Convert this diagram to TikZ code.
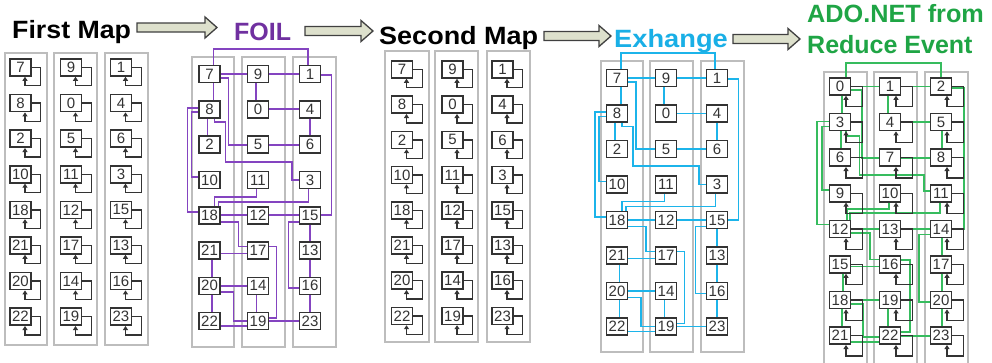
\documentclass[tikz,border=0pt]{standalone}
\usepackage{fontspec}
\setmainfont{Liberation Sans}
\usetikzlibrary{calc,arrows.meta}

\definecolor{foiltext}{HTML}{7030A0}
\definecolor{foilwire}{HTML}{8444C0}
\definecolor{extext}{HTML}{19AFE6}
\definecolor{exwire}{HTML}{1CB4EA}
\definecolor{adotext}{HTML}{1FA545}
\definecolor{adowire}{HTML}{36BC5E}
\definecolor{arrowfill}{HTML}{DDE0CC}
\definecolor{framegray}{HTML}{BDBDBD}
\definecolor{ink}{HTML}{333333}

\tikzset{
  colbox/.style={draw=framegray, line width=2pt, fill=white},
  cell/.style={draw=ink, line width=1.6pt, fill=white, minimum width=21pt,
    minimum height=17pt, inner sep=0pt, text=ink,
    font=\fontsize{15}{15}\selectfont},
  selfloop/.style={draw=ink, line width=1.3pt, -{Triangle[length=4pt,width=5pt]}},
  wire/.style={line width=1.8pt},
  title/.style={font=\fontsize{25}{25}\selectfont\bfseries, inner sep=0pt, anchor=base west},
  bigarrow/.style={draw=black!75, line width=1.3pt, fill=arrowfill, line join=miter},
}

% grid position / label of every cell: row/column/label
\def\foillabels{0/0/7,0/1/9,0/2/1,1/0/8,1/1/0,1/2/4,2/0/2,2/1/5,2/2/6,3/0/10,3/1/11,3/2/3,4/0/18,4/1/12,4/2/15,5/0/21,5/1/17,5/2/13,6/0/20,6/1/14,6/2/16,7/0/22,7/1/19,7/2/23}
\def\adolabels{0/0/0,0/1/1,0/2/2,1/0/3,1/1/4,1/2/5,2/0/6,2/1/7,2/2/8,3/0/9,3/1/10,3/2/11,4/0/12,4/1/13,4/2/14,5/0/15,5/1/16,5/2/17,6/0/18,6/1/19,6/2/20,7/0/21,7/1/22,7/2/23}

% #1 panel, #2-#4 column centres, #5 first row, #6 row step, #7 labels
\newcommand\placecells[7]{%
  \foreach \r/\c/\t in #7 {
    \pgfmathsetmacro\cx{\c==0 ? #2 : (\c==1 ? #3 : #4)}
    \node[cell] (#1-\r-\c) at (\cx, #5+\r*#6) {\t};
  }}

% feedback loop under every cell: #1 panel, #2 reach, #3 arrow offset
\newcommand\selfloops[3]{%
  \foreach \r in {0,...,7}{\foreach \c in {0,1,2}{
    \draw[selfloop] (#1-\r-\c.east) -- ++(#2,0) |- ($(#1-\r-\c.south)+(#3,#2)$)
      -- ($(#1-\r-\c.south)+(#3,0)$);}}}

% wiring of the FOIL / exchange stage
\newcommand\foilwires[1]{%
  \draw ($(#1-0-0.north)+(4,0)$) -- ++(0,-15.5) -| ($(#1-0-2.north)+(-2,0)$);
  \draw (#1-0-0) -- (#1-0-1);
  \draw (#1-0-1) -- (#1-0-2);
  \draw ($(#1-0-0.south)+(4,0)$) -- ($(#1-1-0.north)+(4,0)$);
  \draw ($(#1-0-1.south)+(-2,0)$) -- ($(#1-1-1.north)+(-2,0)$);
  \draw ($(#1-0-0.east)+(0,4)$) -| ($(#1-2-0)+(19,0)$) -- (#1-2-1.west);
  \draw ($(#1-0-2.east)+(0,1)$) -| ($(#1-4-2)+(21.5,0)$) -- (#1-4-2.east);
  \draw (#1-1-1) -- (#1-1-2);
  \draw (#1-1-2) -- (#1-2-2);
  \draw ($(#1-1-0.west)+(0,-1.5)$) -| ($(#1-4-0)+(-22,-3)$) -- ($(#1-4-0.west)+(0,-3)$);
  \draw ($(#1-1-0.west)+(0,3)$) -| ($(#1-3-0)+(-18,-3)$) -- ($(#1-3-0.west)+(0,-3)$);
  \draw ($(#1-1-0.south)+(-2,0)$) -- ($(#1-2-0.north)+(-2,0)$);
  \draw ($(#1-1-0.south)+(5,0)$) |- ($(#1-1-0)+(16,13)$) |- ($(#1-2-2)+(-18,17)$) |- (#1-3-2.west);
  \draw (#1-2-1) -- (#1-2-2);
  \draw ($(#1-3-1.south)+(-1.5,0)$) |- ($(#1-3-0)+(5,17)$) -- ($(#1-4-0.north)+(5,0)$);
  \draw ($(#1-3-2.south)+(-1.5,0)$) |- ($(#1-3-0)+(9,22)$) -- ($(#1-4-0.north)+(9,0)$);
  \draw (#1-4-0) -- (#1-4-1);
  \draw (#1-4-1) -- (#1-4-2);
  \draw ($(#1-4-0.east)+(0,6.5)$) -| ($(#1-5-0)+(29,-4)$) -- ($(#1-5-1.west)+(0,-4)$);
  \draw ($(#1-4-2.west)+(0,6.5)$) -| ($(#1-6-2)+(-21.5,2.5)$) -- ($(#1-6-2.west)+(0,2.5)$);
  \draw (#1-4-2) -- (#1-5-2);
  \draw (#1-5-2) -- (#1-6-2);
  \draw (#1-6-2) -- (#1-7-2);
  \draw ($(#1-5-0.east)+(0,3)$) -- ($(#1-5-1.west)+(0,3)$);
  \draw ($(#1-5-0.south)+(2.5,0)$) -- ($(#1-6-0.north)+(2.5,0)$);
  \draw ($(#1-6-0.south)+(2.5,0)$) -- ($(#1-7-0.north)+(2.5,0)$);
  \draw ($(#1-5-1.east)+(0,-4)$) -| ($(#1-7-1)+(18.5,-3)$) -- ($(#1-7-1.east)+(0,-3)$);
  \draw (#1-6-0) -- (#1-6-1);
  \draw ($(#1-6-1.south)+(-1.5,0)$) -- ($(#1-7-1.north)+(-1.5,0)$);
  \draw ($(#1-6-0.east)+(0,6.5)$) -| ($(#1-7-0)+(24,0)$) -- (#1-7-1.west);
  \draw ($(#1-7-0.east)+(0,5)$) -- ($(#1-7-1.west)+(0,5)$);
  \draw (#1-7-1) -- (#1-7-2);
}

% hollow block arrow: #1 start x, #2 tip x, #3 centre y
\newcommand\blockarrow[3]{%
  \draw[bigarrow] (#1,#3-4.5) -- (#2-12,#3-4.5) -- (#2-12,#3-10.5) -- (#2,#3)
    -- (#2-12,#3+10.5) -- (#2-12,#3+4.5) -- (#1,#3+4.5) -- cycle;}

\begin{document}
\begin{tikzpicture}[x=1pt,y=-1pt]
\useasboundingbox (0,0) rectangle (992,362);
\clip (0,0) rectangle (992,362);
\fill[white] (0,0) rectangle (992,362);

% stage titles and the arrows between them
\node[title, xscale=1.07] (t1) at (12,38) {First Map};
\node[title, text=foiltext] (t2) at (234,40) {FOIL};
\node[title, xscale=1.08] (t3) at (379,44) {Second Map};
\node[title, text=extext, xscale=1.09] (t4) at (614,47) {Exhange};
\node[title, text=adotext, xscale=1.01] (t5) at (807,22) {ADO.NET from};
\node[title, text=adotext] (t6) at (807,53) {Reduce Event};
\blockarrow{137}{217}{27.5}
\blockarrow{305}{373}{31}
\blockarrow{544}{611}{36}
\blockarrow{733}{800}{39}

% column frames
\foreach \a/\b in {5/47,54/97,105/148} \draw[colbox] (\a,53) rectangle (\b,345);
\foreach \a/\b in {192/234,242/285,293/336} \draw[colbox] (\a,57) rectangle (\b,347);
\foreach \a/\b in {385/429,435/478,487/530} \draw[colbox] (\a,51) rectangle (\b,342);
\foreach \a/\b in {601/643,650/693,701/744} \draw[colbox] (\a,61) rectangle (\b,352);
\foreach \a/\b in {824/867,874/917,925/968} \draw[colbox] (\a,72) rectangle (\b,368);

% cells
\placecells{A}{20.5}{71}{121}{67.5}{35.6}{\foillabels}
\placecells{B}{209.5}{258}{310}{74}{35.3}{\foillabels}
\placecells{C}{402}{452.5}{502.5}{69.5}{35.2}{\foillabels}
\placecells{D}{617}{666}{717}{78}{35.5}{\foillabels}
\placecells{E}{840}{890}{941}{86.5}{35.6}{\adolabels}

% map stages: each cell feeds back to itself
\selfloops{A}{9}{4.5}
\selfloops{C}{9}{4.5}

% FOIL and exchange wiring
\begin{scope}[wire, draw=foilwire]
  \foilwires{B}
\end{scope}
\begin{scope}[wire, draw=exwire]
  \foilwires{D}
\end{scope}

% ADO.NET wiring
\begin{scope}[wire, draw=adowire]
  \draw ($(E-0-0.north)+(6,0)$) -- ++(0,-14) -| (E-0-2.north);
  \draw (E-0-0) -- (E-0-1);
  \draw (E-0-1) -- (E-0-2);
  \draw ($(E-0-0.south)+(2,0)$) -- ($(E-1-0.north)+(2,0)$);
  \draw ($(E-0-1.south)+(-2,0)$) -- ($(E-1-1.north)+(-2,0)$);
  \draw ($(E-0-0.east)+(0,3.5)$) -| ($(E-2-0)+(22,0)$) -- (E-2-1.west);
  \draw ($(E-0-2.east)+(0,1.5)$) -| ($(E-4-2)+(23,0)$) -- (E-4-2.east);
  \draw (E-1-1) -- (E-1-2);
  \draw ($(E-1-2.south)+(1,0)$) -- ($(E-2-2.north)+(1,0)$);
  \draw ($(E-1-0.west)+(0,-0.7)$) -| ($(E-4-0)+(-22.7,-4.5)$) -- ($(E-4-0.west)+(0,-4.5)$);
  \draw ($(E-1-0.west)+(0,4.3)$) -| ($(E-3-0)+(-18.3,-3)$) -- ($(E-3-0.west)+(0,-3)$);
  \draw ($(E-1-0.south)+(1,0)$) -- ($(E-2-0.north)+(1,0)$);
  \draw ($(E-1-0.south)+(6,0)$) |- ($(E-1-0)+(19.5,13.5)$) |- ($(E-2-2)+(-17,17)$) |- ($(E-3-2.west)+(0,-2)$);
  \draw (E-2-1) -- (E-2-2);
  \draw ($(E-3-1.south)+(-1,0)$) |- ($(E-3-0)+(6.7,16)$) -- ($(E-4-0.north)+(6.7,0)$);
  \draw ($(E-3-2.south)+(-1,0)$) |- ($(E-3-0)+(10,19.5)$) -- ($(E-4-0.north)+(10,0)$);
  \draw (E-4-0) -- (E-4-1);
  \draw (E-4-1) -- (E-4-2);
  \draw ($(E-4-0.east)+(0,4)$) -| ($(E-5-0)+(30,-5)$) -- ($(E-5-1.west)+(0,-5)$);
  \draw ($(E-4-2.west)+(0,5.5)$) -| ($(E-6-2)+(-21.7,1.6)$) -- ($(E-6-2.west)+(0,1.6)$);
  \draw ($(E-4-2.south)+(1,0)$) -- ($(E-5-2.north)+(1,0)$);
  \draw ($(E-5-2.south)+(1,0)$) -- ($(E-6-2.north)+(1,0)$);
  \draw ($(E-6-2.south)+(1,0)$) -- ($(E-7-2.north)+(1,0)$);
  \draw ($(E-5-0.east)+(0,2)$) -- ($(E-5-1.west)+(0,2)$);
  \draw ($(E-5-0.south)+(3,0)$) -- ($(E-6-0.north)+(3,0)$);
  \draw ($(E-6-0.south)+(2,0)$) -- ($(E-7-0.north)+(2,0)$);
  \draw ($(E-5-1.east)+(0,-4.5)$) -| ($(E-7-1)+(20,-4)$) -- ($(E-7-1.east)+(0,-4)$);
  \draw (E-6-0) -- (E-6-1);
  \draw ($(E-6-1.south)+(-1.7,0)$) -- ($(E-7-1.north)+(-1.7,0)$);
  \draw ($(E-6-0.east)+(0,4)$) -| ($(E-7-0)+(23,1)$) -- ($(E-7-1.west)+(0,1)$);
  \draw ($(E-7-0.east)+(0,6)$) -- ($(E-7-1.west)+(0,6)$);
  \draw (E-7-1) -- (E-7-2);
\end{scope}
\selfloops{E}{11}{6}
\end{tikzpicture}
\end{document}
